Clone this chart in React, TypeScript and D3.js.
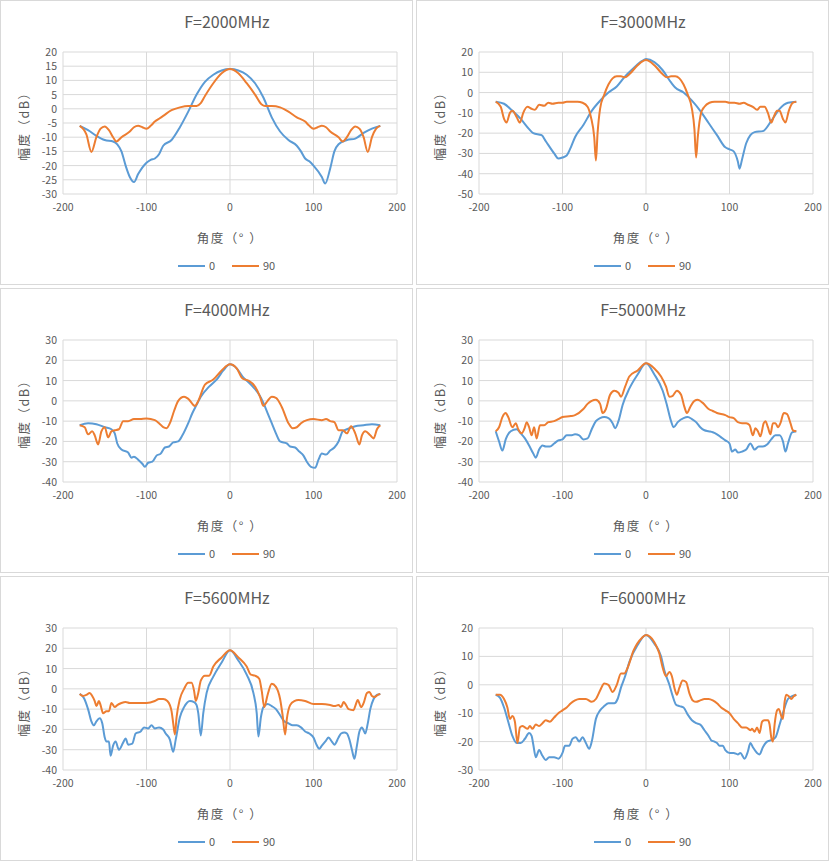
import React from "react";
import * as d3 from "d3";

type P = [number, number];

const titles = ["F=2000MHz", "F=3000MHz", "F=4000MHz", "F=5000MHz", "F=5600MHz", "F=6000MHz"];
const yDomains: [number, number, number][] = [[-30, 20, 5], [-50, 20, 10], [-40, 30, 10], [-40, 30, 10], [-40, 30, 10], [-30, 20, 10]];
const xTicks = [-200, -100, 0, 100, 200];
const seriesNames = ["0", "90"];

const p1_0: P[] = [[-180,-6],[-170,-7.5],[-160,-9.5],[-150,-11],[-140,-11.5],[-135,-12.5],[-130,-15],[-125,-20],[-120,-24],[-115,-25.8],[-110,-23],[-100,-19],[-95,-18],[-90,-17.5],[-85,-16],[-80,-13],[-70,-11],[-60,-6.5],[-50,-1],[-40,5],[-30,9.5],[-20,12],[-10,13.5],[0,14],[10,13.5],[20,12],[30,9],[40,4],[50,-3],[60,-8],[70,-11],[80,-13],[85,-15],[90,-17.5],[95,-18.5],[100,-20],[110,-24],[114,-26.3],[120,-21],[125,-15],[130,-12.5],[140,-11],[150,-10.5],[160,-8.5],[170,-7],[180,-6]];
const p1_90: P[] = [[-180,-6],[-172,-9],[-166,-15.2],[-160,-10],[-155,-7],[-150,-6.2],[-145,-7.5],[-140,-10],[-136,-11.5],[-130,-10],[-120,-8],[-115,-6.5],[-110,-6],[-105,-6.5],[-100,-7],[-95,-6],[-90,-4.5],[-85,-3.5],[-80,-2.5],[-70,-0.5],[-60,0.5],[-50,1],[-40,1],[-35,2],[-30,4.5],[-20,9],[-10,12.5],[0,14],[10,12.5],[20,9],[30,5],[38,1.5],[42,1],[50,1],[60,0.5],[70,-1],[80,-3],[90,-4.5],[95,-6],[100,-7],[105,-6.5],[110,-6],[115,-6.5],[120,-8],[130,-10],[135,-11.5],[140,-10],[145,-7.5],[150,-6.2],[155,-7],[160,-10],[165,-15.2],[170,-10],[175,-7],[180,-6]];
const p2_0: P[] = [[-180,-4.5],[-170,-5.5],[-160,-9],[-150,-13],[-140,-18],[-135,-20],[-125,-21],[-120,-24],[-110,-30],[-105,-32.5],[-100,-32],[-95,-31],[-90,-27],[-85,-22],[-75,-16],[-65,-9],[-55,-4],[-45,0],[-35,3],[-25,8],[-15,12],[-5,15.5],[0,16.5],[10,15],[20,11],[30,5],[35,2.5],[45,0],[55,-4],[65,-9],[75,-15],[85,-21],[95,-27],[100,-28],[105,-29],[110,-34],[112,-37.5],[115,-33],[120,-25],[125,-21],[130,-19.5],[140,-19],[150,-14],[160,-8],[170,-5],[180,-4.5]];
const p2_90: P[] = [[-180,-4.5],[-174,-7],[-170,-13],[-167,-14.8],[-163,-10],[-160,-9],[-155,-12],[-151,-14.8],[-147,-10],[-142,-7],[-137,-8],[-133,-8.5],[-128,-6],[-122,-6.5],[-117,-5],[-112,-5.5],[-105,-5],[-100,-5],[-95,-4.5],[-88,-4.5],[-82,-4.5],[-76,-5],[-70,-7],[-66,-12],[-62,-22],[-60,-33.5],[-58,-20],[-55,-8],[-50,-1],[-45,4],[-40,7],[-35,8],[-30,8],[-25,7.5],[-20,9],[-10,13.5],[0,16],[10,13.5],[20,9],[25,7.5],[30,8],[35,8],[40,7],[45,4],[50,-1],[55,-8],[58,-18],[60,-32],[62,-22],[66,-10],[70,-7],[76,-5],[82,-4.5],[88,-4.5],[95,-4.5],[100,-5],[106,-5],[112,-5.5],[117,-5],[122,-6],[128,-7],[133,-8.5],[137,-7],[142,-7],[146,-10],[150,-14.8],[153,-12],[157,-9],[160,-9],[164,-13],[167,-14.8],[171,-9],[176,-5],[180,-4.5]];
const p3_0: P[] = [[-180,-12],[-170,-11],[-160,-11.5],[-150,-13],[-142,-14],[-138,-16],[-135,-21],[-130,-24],[-122,-25.5],[-118,-28],[-115,-27.5],[-110,-29],[-105,-31],[-102,-32.5],[-98,-30.5],[-93,-30],[-88,-27],[-83,-26],[-78,-23],[-73,-22.5],[-68,-20.5],[-62,-20],[-57,-17],[-50,-11],[-45,-6],[-40,-2],[-35,2],[-25,7],[-15,11],[-8,15],[0,18],[8,16],[15,12],[25,8],[35,3],[40,-1],[45,-6],[50,-11],[55,-16],[60,-20],[68,-21],[72,-22.5],[78,-23],[83,-25],[88,-27],[92,-30],[97,-32.5],[102,-33],[106,-29],[110,-26],[115,-26.5],[120,-24.5],[125,-23],[130,-20],[135,-15],[140,-14],[150,-12.5],[160,-12],[170,-11.5],[180,-12]];
const p3_90: P[] = [[-180,-12],[-174,-13],[-170,-16.5],[-165,-15],[-162,-17],[-158,-21.5],[-154,-15],[-150,-13],[-146,-18],[-142,-15],[-138,-14.5],[-133,-14],[-128,-10],[-122,-10],[-115,-9],[-108,-9],[-100,-8.7],[-90,-9.5],[-85,-11],[-80,-13],[-76,-13.5],[-72,-11],[-67,-5],[-62,0],[-55,2],[-50,1],[-42,-2.5],[-38,0],[-30,8],[-20,10.5],[-10,15],[0,18],[8,16],[15,11],[22,10],[30,7],[36,2],[40,-2.5],[45,0],[50,2],[55,1.5],[62,-3],[70,-11],[75,-13.5],[80,-13],[85,-11],[92,-9.5],[100,-9],[110,-9.5],[115,-9],[120,-10],[125,-10.5],[130,-14.5],[135,-14.5],[140,-16],[145,-12.5],[150,-16],[155,-21.5],[158,-17],[162,-15],[168,-17],[172,-18.5],[176,-14],[180,-12]];
const p4_0: P[] = [[-180,-15],[-176,-20],[-172,-24.5],[-168,-19],[-162,-15],[-155,-14],[-150,-16],[-145,-18.5],[-140,-22],[-135,-26],[-132,-28],[-128,-24],[-124,-22],[-120,-22.5],[-115,-22.5],[-110,-21],[-105,-19.5],[-100,-19],[-95,-17],[-90,-17],[-85,-16.5],[-80,-17],[-75,-19],[-70,-18.5],[-65,-14],[-60,-10],[-55,-8.5],[-50,-8],[-45,-8.5],[-40,-11],[-37,-13.5],[-33,-10],[-28,-2],[-20,6],[-10,13],[0,18.5],[10,13],[20,5],[25,-2],[30,-10],[33,-13],[38,-10.5],[45,-8.5],[50,-8],[55,-9],[60,-10.5],[65,-13],[70,-14.5],[75,-15],[80,-15.5],[85,-16.5],[90,-18],[95,-19.5],[100,-21],[103,-25],[107,-24],[110,-25.5],[115,-25],[120,-24],[125,-21],[130,-24],[135,-22.5],[140,-22.5],[145,-21.5],[150,-19],[155,-17],[160,-17],[164,-20],[167,-25],[170,-21],[175,-15.5],[180,-15]];
const p4_90: P[] = [[-180,-15],[-176,-13],[-172,-8],[-168,-6],[-165,-8],[-160,-13],[-156,-11],[-153,-14],[-149,-16],[-145,-13],[-143,-10.5],[-140,-13],[-137,-17],[-134,-13],[-131,-18.5],[-127,-12],[-122,-12],[-117,-10.5],[-110,-10],[-105,-9],[-100,-8],[-90,-7.5],[-85,-7],[-75,-4],[-70,-1.5],[-65,0],[-60,0.5],[-55,-1.5],[-52,-6],[-48,-4],[-43,3],[-38,5],[-33,4],[-30,2],[-25,7],[-20,12],[-10,15],[0,18.5],[10,16],[18,12],[24,7],[28,2],[32,2.5],[37,5],[42,3],[46,-3],[49,-6],[53,-3],[58,0],[62,0.5],[68,-1],[75,-4],[80,-5],[85,-6],[95,-7],[100,-8],[105,-8.5],[110,-10.5],[115,-11],[120,-11],[124,-12],[128,-17],[131,-13.5],[134,-15],[137,-17.5],[141,-11],[143,-10],[146,-13],[149,-16.5],[152,-11],[155,-11],[158,-13],[161,-11],[165,-6],[169,-6.5],[173,-11],[176,-14.5],[180,-15]];
const p5_0: P[] = [[-180,-2.5],[-175,-4.5],[-170,-10],[-166,-16],[-163,-18],[-160,-16],[-156,-14.5],[-153,-17],[-150,-24],[-148,-26],[-145,-26],[-143,-33],[-140,-28],[-137,-26],[-133,-30],[-128,-26.5],[-125,-24.5],[-122,-27.5],[-117,-27],[-113,-22],[-107,-21],[-103,-19],[-98,-19.5],[-94,-18],[-90,-19.5],[-85,-19],[-80,-20],[-77,-22],[-72,-25],[-68,-31],[-65,-25],[-60,-14],[-55,-9],[-48,-6],[-43,-6.5],[-40,-8],[-38,-12],[-35,-23],[-32,-12],[-28,-2],[-20,6],[-10,13],[0,19],[10,14],[20,7],[28,-2],[32,-12],[34,-23.5],[37,-14],[40,-9],[45,-7.5],[50,-8.5],[55,-10],[60,-13],[65,-16],[70,-17],[75,-18],[80,-18],[85,-19],[90,-21],[95,-22],[100,-24],[103,-27],[107,-29.5],[110,-28],[115,-25.5],[118,-24],[122,-26],[125,-27.5],[130,-24],[133,-22],[137,-21.5],[140,-22],[143,-25],[146,-30],[149,-34.5],[152,-28],[155,-21],[158,-19],[162,-22],[165,-17],[168,-10],[172,-5],[176,-3],[180,-2.5]];
const p5_90: P[] = [[-180,-2.5],[-176,-3.5],[-172,-3],[-168,-2],[-165,-3.5],[-162,-6],[-160,-8.5],[-157,-6],[-155,-8],[-152,-12],[-148,-11],[-145,-11],[-142,-7],[-138,-9],[-135,-8],[-130,-7],[-125,-6.5],[-120,-7],[-110,-7],[-100,-7],[-90,-6],[-85,-5],[-80,-5],[-75,-6],[-72,-8],[-70,-11],[-68,-17],[-66,-22.5],[-64,-14],[-60,-5],[-55,0],[-50,3],[-46,3],[-43,-1],[-41,-6],[-38,-2],[-35,4],[-30,6.5],[-25,6.5],[-20,11],[-10,15.5],[0,19],[10,15.5],[20,11],[25,7],[30,6.5],[35,5],[38,-1],[41,-9],[45,-3],[50,2.5],[55,1],[60,-5],[63,-13],[66,-22.5],[68,-15],[72,-8],[77,-6],[82,-5.5],[90,-6],[100,-7.5],[110,-7.5],[120,-8],[125,-8.5],[130,-8],[133,-9],[136,-6.5],[139,-8],[142,-10],[148,-10.5],[150,-8.5],[153,-5.5],[157,-9],[160,-7],[164,-2],[167,-1.5],[170,-3.5],[173,-4],[177,-3],[180,-2.5]];
const p6_0: P[] = [[-180,-3.5],[-175,-4.5],[-170,-8],[-165,-13],[-160,-18],[-155,-20.5],[-150,-20.5],[-145,-19],[-140,-17],[-137,-18],[-135,-21],[-132,-25.5],[-128,-23],[-124,-25],[-120,-26.5],[-116,-25.5],[-110,-25.5],[-105,-26],[-100,-24],[-97,-21.5],[-92,-21.5],[-88,-19],[-84,-18.5],[-80,-20],[-76,-18.5],[-72,-20.5],[-68,-22.5],[-65,-20],[-60,-12],[-55,-9],[-50,-7.5],[-45,-6.5],[-38,-6.5],[-34,-5],[-30,-1],[-25,3],[-20,8],[-10,14],[0,17.5],[10,14.5],[18,10],[22,5],[28,0],[32,-4],[36,-7],[40,-7.5],[45,-8],[50,-10.5],[55,-12.5],[60,-13.5],[65,-14],[70,-16],[75,-18],[78,-19.5],[82,-20],[85,-20.5],[88,-21.5],[92,-21.5],[95,-23],[100,-24],[105,-24],[110,-24.5],[113,-24],[118,-26],[122,-23.5],[125,-20.5],[128,-22],[133,-24],[136,-24.5],[140,-22],[145,-20],[150,-19.5],[155,-18.5],[160,-14],[165,-9],[170,-5],[175,-4],[180,-3.5]];
const p6_90: P[] = [[-180,-3.5],[-175,-3.5],[-170,-5],[-166,-8],[-163,-12],[-160,-11],[-157,-13],[-154,-20.5],[-151,-15],[-148,-14.5],[-145,-15],[-142,-15.5],[-139,-14.5],[-136,-15.5],[-132,-14],[-128,-14.5],[-124,-13.5],[-120,-12.5],[-115,-13],[-110,-11.5],[-105,-10],[-100,-9],[-95,-8],[-90,-6.5],[-85,-5.5],[-80,-5],[-72,-5],[-65,-6],[-60,-5],[-55,-2],[-50,0.5],[-45,0],[-40,-2.5],[-35,0],[-30,4],[-26,4],[-22,6],[-15,12],[-5,16.5],[0,17.5],[10,15],[16,11],[20,6],[24,3],[28,4.5],[31,3],[34,-1],[37,-3.5],[40,-1],[44,1.5],[48,1],[52,-3],[56,-5.5],[60,-6],[65,-5.5],[70,-5],[75,-5],[80,-5.5],[85,-6.5],[90,-8],[95,-9],[100,-10],[105,-12],[110,-13.5],[115,-15],[120,-15],[125,-16],[127,-15.5],[130,-16.5],[133,-15],[136,-17],[139,-13],[142,-12.5],[146,-12.5],[148,-14],[150,-18.5],[152,-20],[154,-14],[157,-9],[159,-8.5],[162,-11],[164,-12],[166,-6],[168,-3.5],[171,-4],[174,-5],[177,-4],[180,-3.5]];

const data: P[][][] = [[p1_0, p1_90], [p2_0, p2_90], [p3_0, p3_90], [p4_0, p4_90], [p5_0, p5_90], [p6_0, p6_90]];
const colors = ["#5b9bd5", "#ed7d31"];
const textColor = "#595959";
const font = "'Noto Sans CJK SC', 'Noto Sans', sans-serif";

function Panel({ idx, ox, oy }: { idx: number; ox: number; oy: number }) {
  const W = 413, H = 285;
  const L = 63, R = 397, T = 52, B = 194;
  const [y0, y1, step] = yDomains[idx];
  const x = d3.scaleLinear().domain([-200, 200]).range([L, R]);
  const y = d3.scaleLinear().domain([y0, y1]).range([B, T]);
  const yTicks = d3.range(y0, y1 + 0.001, step);
  const line = d3.line<P>().x(d => x(d[0])).y(d => y(d[1])).curve(d3.curveMonotoneX);
  return (
    <g transform={`translate(${ox},${oy})`} fontFamily={font}>
      <rect x={0.5} y={0.5} width={W - 1} height={H - 1} fill="#fff" stroke="#d9d9d9" />
      <text x={(L + R) / 2 - 3} y={28} textAnchor="middle" fontSize={16} fill={textColor}>{titles[idx]}</text>
      {yTicks.map(t => (
        <g key={"y" + t}>
          <line x1={L} x2={R} y1={y(t)} y2={y(t)} stroke="#d9d9d9" />
          <text x={L - 6} y={y(t) + 4} textAnchor="end" fontSize={10.5} fill={textColor}>{t}</text>
        </g>
      ))}
      {xTicks.map(t => (
        <g key={"x" + t}>
          <line x1={x(t)} x2={x(t)} y1={T} y2={B} stroke="#d9d9d9" />
          <text x={x(t)} y={B + 17} textAnchor="middle" fontSize={10.5} fill={textColor}>{t}</text>
        </g>
      ))}
      {data[idx].map((s, i) => (
        <path key={i} d={line(s) || ""} fill="none" stroke={colors[i]} strokeWidth={2} strokeLinejoin="round" />
      ))}
      <text x={(L + R) / 2} y={243} textAnchor="middle" fontSize={12.5} letterSpacing={1.5} fill={textColor}>角度（° ）</text>
      <text transform={`translate(${29},${(T + B) / 2}) rotate(-90)`} textAnchor="middle" fontSize={12.5} letterSpacing={1.5} fill={textColor}>幅度（dB）</text>
      {seriesNames.map((n, i) => (
        <g key={n} transform={`translate(${178 + i * 54},266)`}>
          <line x1={0} x2={27} y1={0} y2={0} stroke={colors[i]} strokeWidth={2} />
          <text x={31} y={4} fontSize={11} fill={textColor}>{n}</text>
        </g>
      ))}
    </g>
  );
}

export default function App() {
  const pos: [number, number][] = [[0, 0], [416, 0], [0, 288], [416, 288], [0, 576], [416, 576]];
  return (
    <svg width={829} height={863} style={{ position: "absolute", left: 0, top: 0, background: "#fff" }}>
      {pos.map((p, i) => <Panel key={i} idx={i} ox={p[0]} oy={p[1]} />)}
    </svg>
  );
}
